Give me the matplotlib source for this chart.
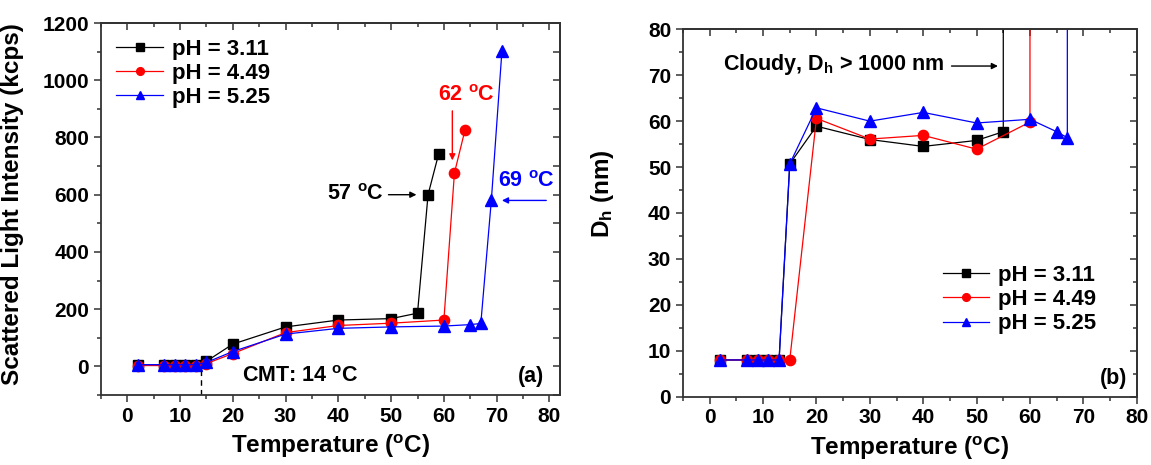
import numpy as np
import matplotlib
matplotlib.use("Agg")
import matplotlib.pyplot as plt
from matplotlib.ticker import MultipleLocator

plt.rcParams['font.family'] = ['Liberation Sans', 'DejaVu Sans']
plt.rcParams['font.weight'] = 'bold'
plt.rcParams['mathtext.fontset'] = 'custom'
plt.rcParams['mathtext.rm'] = 'Liberation Sans:bold'
plt.rcParams['mathtext.it'] = 'Liberation Sans:bold'
plt.rcParams['mathtext.bf'] = 'Liberation Sans:bold'
plt.rcParams['mathtext.default'] = 'regular'

# (a) scattered light intensity (kcps) vs temperature
T_a_311 = [2, 7, 9, 11, 13, 15, 20, 30, 40, 50, 55, 57, 59]
I_311 = [5, 5, 5, 5, 5, 18, 78, 138, 162, 167, 186, 600, 742]
T_a_449 = [2, 7, 9, 11, 13, 15, 20, 30, 40, 50, 60, 62, 64]
I_449 = [3, 3, 3, 3, 3, 10, 45, 118, 143, 151, 162, 676, 826]
T_a_525 = [2, 7, 9, 11, 13, 15, 20, 30, 40, 50, 60, 65, 67, 69, 71]
I_525 = [6, 6, 6, 6, 6, 14, 52, 113, 133, 138, 141, 146, 150, 582, 1102]

# (b) hydrodynamic diameter (nm) vs temperature; last point of each = cloudy
T_b_311 = [2, 7, 9, 11, 13, 15, 20, 30, 40, 50, 55, 55]
D_311 = [8, 8, 8, 8, 8, 50.7, 58.9, 56.0, 54.5, 55.8, 57.7, 1000]
T_b_449 = [2, 7, 9, 11, 13, 15, 20, 30, 40, 50, 60, 60]
D_449 = [8, 8, 8, 8, 8, 8, 60.6, 56.1, 56.9, 53.9, 59.8, 1000]
T_b_525 = [2, 7, 9, 11, 13, 15, 20, 30, 40, 50, 60, 65, 67, 67]
D_525 = [8, 8, 8, 8, 8, 50.7, 62.9, 60.0, 61.9, 59.6, 60.4, 57.7, 56.4, 1000]

labels = ['pH = 3.11', 'pH = 4.49', 'pH = 5.25']
colors = ['black', 'red', 'blue']
markers = ['s', 'o', '^']
msizes = [6.8, 7.4, 8.2]

TICK_FS = 15
LABEL_FS = 17.5
LEG_FS = 16
NOTE_FS = 15.5

fig = plt.figure(figsize=(11.51, 4.65), dpi=100)
ax1 = fig.add_axes([0.0877, 0.1505, 0.3988, 0.80])
ax2 = fig.add_axes([0.5934, 0.1469, 0.3942, 0.7901])


def style_axes(ax):
    for sp in ax.spines.values():
        sp.set_linewidth(1.3)
        sp.set_color('#333333')
    ax.tick_params(which='both', labelsize=TICK_FS, width=1.1, color='#333333')
    ax.tick_params(which='major', length=5)
    ax.tick_params(which='minor', length=3)
    ax.tick_params(axis='x', which='both', direction='out', top=False)
    ax.tick_params(axis='y', which='both', direction='out', right=False)
    # inward ticks on the mirrored top/right axes
    sec_x = ax.secondary_xaxis('top')
    sec_x.tick_params(which='both', direction='in', labeltop=False, width=1.1, color='#333333')
    sec_x.tick_params(which='major', length=5)
    sec_x.tick_params(which='minor', length=3)
    sec_x.xaxis.set_major_locator(MultipleLocator(10))
    sec_x.xaxis.set_minor_locator(MultipleLocator(5))
    sec_x.spines['top'].set_linewidth(1.3)
    sec_x.spines['top'].set_color('#333333')
    sec_y = ax.secondary_yaxis('right')
    sec_y.tick_params(which='both', direction='in', labelright=False, width=1.1, color='#333333')
    sec_y.tick_params(which='major', length=5)
    sec_y.tick_params(which='minor', length=3)
    sec_y.spines['right'].set_linewidth(1.3)
    sec_y.spines['right'].set_color('#333333')
    for lab in ax.get_xticklabels() + ax.get_yticklabels():
        lab.set_fontweight('bold')
    return sec_y


# ---- panel (a)
data_a = [(T_a_311, I_311), (T_a_449, I_449), (T_a_525, I_525)]
for (x, y), lab, c, m, ms in zip(data_a, labels, colors, markers, msizes):
    ax1.plot(x, y, color=c, lw=0.9, marker=m, ms=ms, mec=c, mfc=c, label=lab)

ax1.set_xlim(-5, 82)
ax1.set_ylim(-100, 1200)
ax1.xaxis.set_major_locator(MultipleLocator(10))
ax1.xaxis.set_minor_locator(MultipleLocator(5))
ax1.yaxis.set_major_locator(MultipleLocator(200))
ax1.yaxis.set_minor_locator(MultipleLocator(100))
sy1 = style_axes(ax1)
sy1.yaxis.set_major_locator(MultipleLocator(100))
ax1.set_xlabel(r'Temperature ($^{o}$C)', fontsize=LABEL_FS, fontweight='bold', labelpad=5)
ax1.set_ylabel('Scattered Light Intensity (kcps)', fontsize=LABEL_FS, fontweight='bold')
ax1.yaxis.set_label_coords(-0.168, 0.512)

ax1.legend(loc='upper left', frameon=False, fontsize=LEG_FS, handlelength=2.1,
           handletextpad=0.4, labelspacing=0.15, borderaxespad=0.3,
           markerscale=0.75)

arrow_kw = dict(arrowstyle='-|>', lw=1.0, mutation_scale=9, shrinkA=0, shrinkB=0)
ax1.annotate('', xy=(54.8, 600), xytext=(49.5, 600),
             arrowprops=dict(color='black', **arrow_kw))
ax1.text(43.2, 600, r'57 $^{o}$C', color='black', fontsize=NOTE_FS, fontweight='bold',
         ha='center', va='center')
ax1.annotate('', xy=(61.6, 720), xytext=(61.6, 893),
             arrowprops=dict(color='red', **arrow_kw))
ax1.text(64.3, 948, r'62 $^{o}$C', color='red', fontsize=NOTE_FS, fontweight='bold',
         ha='center', va='center')
ax1.annotate('', xy=(71.0, 580), xytext=(79.4, 580),
             arrowprops=dict(color='blue', **arrow_kw))
ax1.text(75.7, 645, r'69 $^{o}$C', color='blue', fontsize=NOTE_FS, fontweight='bold',
         ha='center', va='center')
ax1.plot([14, 14], [-100, 0], color='black', lw=1.0, ls=(0, (4, 3)))
ax1.text(32.8, -35, r'CMT: 14 $^{o}$C', fontsize=NOTE_FS, fontweight='bold',
         ha='center', va='center')
ax1.text(76.5, -35, '(a)', fontsize=NOTE_FS, fontweight='bold', ha='center', va='center')

# ---- panel (b)
data_b = [(T_b_311, D_311), (T_b_449, D_449), (T_b_525, D_525)]
for (x, y), lab, c, m, ms in zip(data_b, labels, colors, markers, msizes):
    ax2.plot(x, y, color=c, lw=0.9, marker=m, ms=ms, mec=c, mfc=c, label=lab)

ax2.set_xlim(-5, 80)
ax2.set_ylim(0, 80)
ax2.xaxis.set_major_locator(MultipleLocator(10))
ax2.xaxis.set_minor_locator(MultipleLocator(5))
ax2.yaxis.set_major_locator(MultipleLocator(10))
ax2.yaxis.set_minor_locator(MultipleLocator(5))
sy2 = style_axes(ax2)
sy2.yaxis.set_major_locator(MultipleLocator(10))
sy2.yaxis.set_minor_locator(MultipleLocator(5))
ax2.set_xlabel(r'Temperature ($^{o}$C)', fontsize=LABEL_FS, fontweight='bold', labelpad=5)
ax2.set_ylabel(r'D$_{h}$ (nm)', fontsize=LABEL_FS, fontweight='bold')
ax2.yaxis.set_label_coords(-0.148, 0.554)

ax2.legend(loc='lower right', bbox_to_anchor=(0.955, 0.115), frameon=False, fontsize=LEG_FS,
           handlelength=2.1, handletextpad=0.4, labelspacing=0.15, markerscale=0.75)

ax2.text(2.4, 72.3, r'Cloudy, D$_{h}$ > 1000 nm', fontsize=NOTE_FS, fontweight='bold',
         ha='left', va='center')
ax2.annotate('', xy=(54.0, 72.0), xytext=(45.3, 72.0),
             arrowprops=dict(color='black', **arrow_kw))
ax2.text(75.7, 4, '(b)', fontsize=NOTE_FS, fontweight='bold', ha='center', va='center')

fig.savefig('out.png', dpi=100)
